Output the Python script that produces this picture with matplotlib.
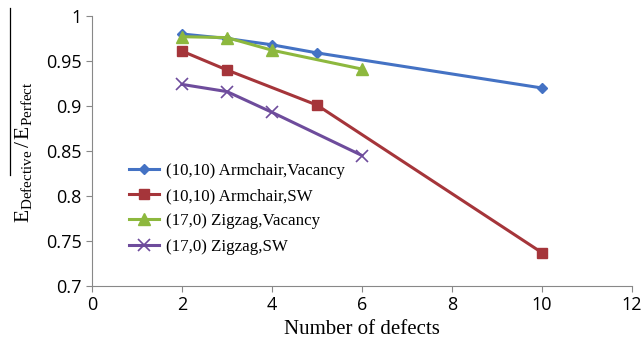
import matplotlib
matplotlib.use("Agg")
import matplotlib.pyplot as plt
from matplotlib.lines import Line2D

# data
x_av = [2, 3, 4, 5, 10]
y_av = [0.980, 0.975, 0.968, 0.959, 0.920]
x_asw = [2, 3, 5, 10]
y_asw = [0.961, 0.940, 0.901, 0.737]
x_zv = [2, 3, 4, 6]
y_zv = [0.977, 0.976, 0.962, 0.941]
x_zsw = [2, 3, 4, 6]
y_zsw = [0.924, 0.916, 0.893, 0.845]

labels = ["(10,10) Armchair,Vacancy", "(10,10) Armchair,SW",
          "(17,0) Zigzag,Vacancy", "(17,0) Zigzag,SW"]

plt.rcParams["mathtext.fontset"] = "custom"
plt.rcParams["mathtext.rm"] = "Liberation Serif"
plt.rcParams["mathtext.it"] = "Liberation Serif"

W, H = 643, 348
fig = plt.figure(figsize=(W / 100, H / 100), dpi=100)
ax = fig.add_axes([92/W, 1 - 286/H, 540/W, 270/H])

ax.plot(x_av, y_av, color="#4472C4", lw=2.2, marker="D", ms=5.5, label=labels[0])
ax.plot(x_asw, y_asw, color="#A5353A", lw=2.2, marker="s", ms=7.5, label=labels[1])
ax.plot(x_zv, y_zv, color="#8DB83E", lw=2.2, marker="^", ms=8, label=labels[2])
ax.plot(x_zsw, y_zsw, color="#6E4C9C", lw=2.2, marker="x", ms=8, mew=1.2, label=labels[3])

ax.set_xlim(0, 12)
ax.set_ylim(0.7, 1.0)
ax.set_xticks(range(0, 13, 2))
ax.set_yticks([0.7, 0.75, 0.8, 0.85, 0.9, 0.95, 1.0])
ax.set_yticklabels(["0.7", "0.75", "0.8", "0.85", "0.9", "0.95", "1"])

for s in ["top", "right"]:
    ax.spines[s].set_visible(False)
for s in ["left", "bottom"]:
    ax.spines[s].set_color("#888888")
ax.tick_params(colors="#888888", labelcolor="black", labelsize=13, length=4)
for lab in ax.get_xticklabels() + ax.get_yticklabels():
    lab.set_family("Open Sans")

ax.set_xlabel("Number of defects", family="Liberation Serif", fontsize=15)

# y label: E_Defective / E_Perfect with the bar drawn above it
fig.text(23/W, 1 - 152/H, r"$\mathrm{E_{Defective}\,/\,E_{Perfect}}$",
         rotation=90, ha="center", va="center", fontsize=15.5)
fig.add_artist(Line2D([10/W, 10/W], [1 - 8/H, 1 - 175/H], color="black", lw=0.9,
                      transform=fig.transFigure))

leg = ax.legend(loc="lower left", bbox_to_anchor=(0.04, 0.06), frameon=False,
                prop={"family": "Liberation Serif", "size": 12.2},
                handlelength=1.8, labelspacing=0.55, handletextpad=0.4)

fig.savefig("out.png", dpi=100)
